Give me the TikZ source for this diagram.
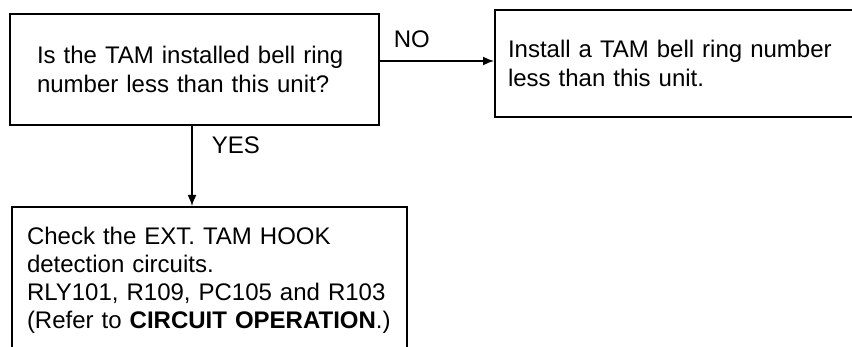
\documentclass[tikz,border=0pt]{standalone}
\usepackage{fontspec}
\setmainfont{Liberation Sans}
\usetikzlibrary{arrows.meta,positioning}
\tikzset{block/.style={rectangle, draw, line width=1pt, align=left, inner ysep=0pt, font=\fontsize{12pt}{14.5pt}\selectfont}}
\tikzset{line/.style={draw, line width=0.8pt, -{Latex[length=5.5pt,width=4.5pt]}}}
\tikzset{lbl/.style={inner sep=0pt, anchor=base west, font=\fontsize{12pt}{14.5pt}\selectfont}}

\begin{document}
\begin{tikzpicture}
        \useasboundingbox (0,0) rectangle (426pt,-173.5pt);
        \node[block, anchor=north west, text width=157.5pt, inner xsep=13.5pt, minimum height=55.5pt] (TAM) at (4.5pt,-6.5pt) {Is the TAM installed bell ring\\number less than this unit?};
        \node[block, right=57pt of TAM.north east, anchor=north west, yshift=2pt, text width=171pt, inner xsep=6.5pt, minimum height=53.5pt] (Inst) {Install a TAM bell ring number\\less than this unit.};
        \node[block, below=40pt of TAM.south west, anchor=north west, xshift=1pt, text width=182.5pt, inner xsep=7.5pt, minimum height=73pt, font=\fontsize{12pt}{14pt}\selectfont] (Chk) {Check the EXT. TAM HOOK\\detection circuits.\\RLY101, R109, PC105 and R103\\(Refer to \textbf{CIRCUIT OPERATION}.)};
        \path[line] ([yshift=4.25pt]TAM.east) -- ([yshift=4.25pt]TAM.east -| Inst.west) node[lbl, pos=0, xshift=6.5pt, yshift=6.5pt]{NO};
        \path[line] ([xshift=-1.25pt]TAM.south) -- ([xshift=-1.25pt]TAM.south |- Chk.north) node[lbl, pos=0, xshift=9.5pt, yshift=-14pt]{YES};
\end{tikzpicture}
\end{document}
